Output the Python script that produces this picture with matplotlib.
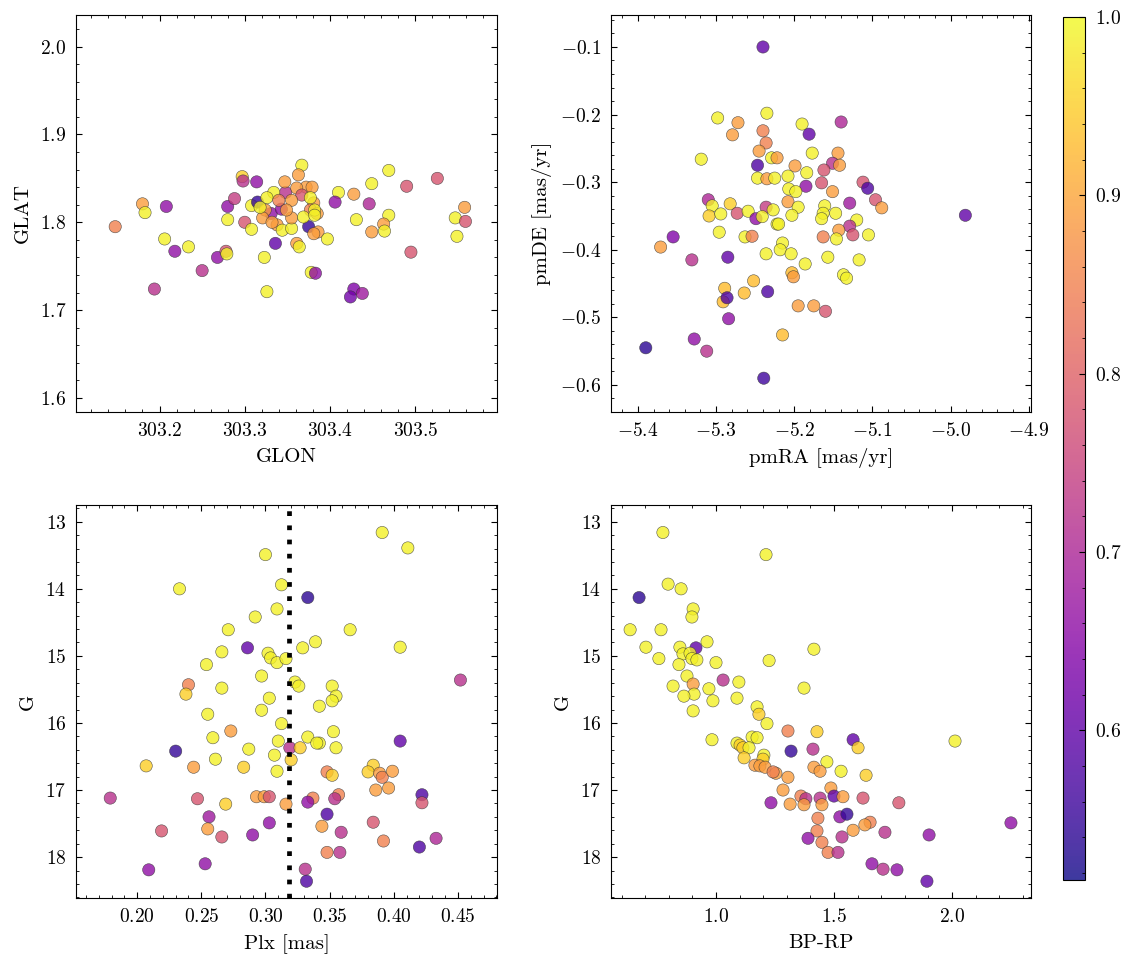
import matplotlib
matplotlib.use("Agg")
import matplotlib.pyplot as plt
import numpy as np

plt.rcParams.update({
    "font.family": "serif",
    "font.serif": ["cmr10", "DejaVu Serif"],
    "mathtext.fontset": "cm",
    "axes.formatter.use_mathtext": True,
    "axes.unicode_minus": True,
    "font.size": 14,
    "axes.labelsize": 15,
    "axes.labelpad": 6,
    "xtick.labelsize": 14, "ytick.labelsize": 14,
    "xtick.major.pad": 7, "ytick.major.pad": 7,
    "axes.linewidth": 0.8,
    "xtick.direction": "in", "ytick.direction": "in",
    "xtick.top": True, "ytick.right": True,
    "xtick.major.size": 4.5, "ytick.major.size": 4.5,
    "xtick.minor.size": 2.2, "ytick.minor.size": 2.2,
    "xtick.major.width": 0.8, "ytick.major.width": 0.8,
    "xtick.minor.width": 0.6, "ytick.minor.width": 0.6,
    "xtick.minor.visible": True, "ytick.minor.visible": True,
})

# ---------------- data ----------------
# Panel 1: GLON / GLAT
glon = [303.148, 303.180, 303.183, 303.208, 303.206, 303.218, 303.234, 303.194, 303.250, 303.268,
        303.278, 303.279, 303.280, 303.280, 303.288, 303.297, 303.298, 303.314, 303.300, 303.308,
        303.308, 303.315, 303.323, 303.326, 303.331, 303.343, 303.336, 303.348, 303.372, 303.367,
        303.363, 303.334, 303.361, 303.364, 303.375, 303.378, 303.383, 303.326, 303.347, 303.361,
        303.367, 303.381, 303.377, 303.355, 303.340, 303.324, 303.321, 303.338, 303.344, 303.355,
        303.355, 303.369, 303.385, 303.386, 303.318, 303.349, 303.332, 303.379, 303.382, 303.382,
        303.381, 303.397, 303.377, 303.469, 303.449, 303.490, 303.526, 303.410, 303.428, 303.406,
        303.446, 303.431, 303.469, 303.463, 303.464, 303.449, 303.547, 303.558, 303.559, 303.549,
        303.495, 303.428, 303.438, 303.424]
glat = [1.795, 1.821, 1.811, 1.818, 1.781, 1.767, 1.772, 1.724, 1.745, 1.760,
        1.767, 1.764, 1.803, 1.818, 1.827, 1.852, 1.847, 1.846, 1.800, 1.792,
        1.819, 1.823, 1.760, 1.721, 1.810, 1.815, 1.776, 1.834, 1.840, 1.865,
        1.854, 1.834, 1.776, 1.772, 1.795, 1.743, 1.742, 1.828, 1.846, 1.839,
        1.831, 1.822, 1.814, 1.825, 1.825, 1.814, 1.805, 1.797, 1.791, 1.793,
        1.805, 1.806, 1.810, 1.789, 1.817, 1.814, 1.800, 1.840, 1.814, 1.808,
        1.787, 1.781, 1.828, 1.859, 1.844, 1.841, 1.850, 1.834, 1.832, 1.823,
        1.821, 1.803, 1.808, 1.798, 1.790, 1.789, 1.805, 1.817, 1.801, 1.784,
        1.766, 1.724, 1.719, 1.715]
prob_pos = [0.85, 0.89, 0.99, 0.66, 0.99, 0.66, 0.99, 0.72, 0.72, 0.66,
            0.78, 0.99, 0.99, 0.66, 0.74, 0.95, 0.72, 0.66, 0.78, 0.99,
            0.99, 0.55, 0.99, 0.99, 0.66, 0.66, 0.60, 0.72, 0.89, 0.99,
            0.89, 0.99, 0.89, 0.99, 0.55, 0.99, 0.66, 0.99, 0.89, 0.89,
            0.78, 0.89, 0.85, 0.89, 0.85, 0.89, 0.89, 0.89, 0.99, 0.99,
            0.89, 0.99, 0.89, 0.89, 0.99, 0.89, 0.89, 0.89, 0.99, 0.99,
            0.89, 0.99, 0.99, 0.99, 0.99, 0.78, 0.78, 0.99, 0.89, 0.66,
            0.70, 0.99, 0.99, 0.89, 0.99, 0.89, 0.99, 0.89, 0.78, 0.99,
            0.78, 0.64, 0.68, 0.62]

# Panel 2: proper motions
pmra = [-5.240, -5.298, -5.272, -5.279, -5.235, -5.240, -5.236, -5.245, -5.229, -5.222,
        -5.247, -5.247, -5.235, -5.225, -5.319, -5.310, -5.305, -5.282, -5.273, -5.309,
        -5.294, -5.259, -5.236, -5.227, -5.249, -5.241, -5.296, -5.263, -5.254, -5.355,
        -5.371, -5.222, -5.190, -5.181, -5.140, -5.177, -5.144, -5.151, -5.142, -5.162,
        -5.199, -5.184, -5.208, -5.165, -5.185, -5.207, -5.198, -5.112, -5.106, -5.151,
        -5.096, -5.088, -5.129, -5.161, -5.208, -5.195, -5.203, -5.163, -5.147, -5.165,
        -5.220, -5.120, -5.129, -5.143, -5.125, -5.105, -5.163, -5.146, -5.215, -5.218,
        -5.204, -5.236, -5.331, -5.285, -5.252, -5.264, -5.234, -5.289, -5.291, -5.286,
        -5.284, -5.328, -5.312, -5.390, -5.239, -5.215, -5.186, -5.157, -5.117, -5.137,
        -5.133, -5.203, -5.201, -5.195, -5.175, -5.160, -4.981]
pmde = [-0.100, -0.205, -0.212, -0.230, -0.198, -0.224, -0.242, -0.254, -0.264, -0.264,
        -0.275, -0.294, -0.295, -0.294, -0.266, -0.326, -0.335, -0.332, -0.346, -0.350,
        -0.347, -0.343, -0.337, -0.341, -0.354, -0.351, -0.374, -0.381, -0.380, -0.381,
        -0.396, -0.362, -0.214, -0.229, -0.211, -0.257, -0.257, -0.272, -0.275, -0.282,
        -0.276, -0.286, -0.291, -0.301, -0.306, -0.310, -0.314, -0.300, -0.309, -0.314,
        -0.326, -0.338, -0.331, -0.335, -0.329, -0.337, -0.349, -0.346, -0.346, -0.354,
        -0.362, -0.356, -0.365, -0.371, -0.378, -0.378, -0.381, -0.384, -0.390, -0.400,
        -0.406, -0.406, -0.415, -0.411, -0.446, -0.464, -0.462, -0.457, -0.477, -0.471,
        -0.502, -0.532, -0.550, -0.545, -0.590, -0.526, -0.421, -0.411, -0.415, -0.437,
        -0.442, -0.434, -0.440, -0.483, -0.483, -0.491, -0.349]
prob_pm = [0.60, 0.99, 0.89, 0.89, 0.99, 0.85, 0.85, 0.89, 0.99, 0.89,
           0.58, 0.99, 0.89, 0.99, 0.99, 0.70, 0.99, 0.95, 0.78, 0.95,
           0.99, 0.99, 0.74, 0.99, 0.66, 0.99, 0.99, 0.99, 0.85, 0.64,
           0.89, 0.99, 0.99, 0.60, 0.70, 0.99, 0.89, 0.72, 0.89, 0.78,
           0.89, 0.99, 0.99, 0.78, 0.66, 0.99, 0.99, 0.78, 0.58, 0.89,
           0.78, 0.89, 0.68, 0.99, 0.89, 0.99, 0.99, 0.99, 0.99, 0.99,
           0.99, 0.99, 0.72, 0.89, 0.78, 0.99, 0.85, 0.99, 0.99, 0.99,
           0.99, 0.99, 0.72, 0.60, 0.93, 0.93, 0.58, 0.93, 0.93, 0.58,
           0.66, 0.66, 0.72, 0.54, 0.56, 0.93, 0.99, 0.99, 0.99, 0.99,
           0.99, 0.93, 0.89, 0.89, 0.89, 0.78, 0.60]

# Panel 3: parallax vs G
plx = [0.300, 0.233, 0.3125, 0.309, 0.292, 0.271, 0.286, 0.266, 0.254, 0.302,
       0.304, 0.309, 0.316, 0.297, 0.240, 0.238, 0.266, 0.303, 0.255, 0.297,
       0.323, 0.391, 0.411, 0.333, 0.366, 0.405, 0.339, 0.329, 0.326, 0.352,
       0.355, 0.352, 0.342, 0.452, 0.273, 0.3125, 0.259, 0.230, 0.287, 0.310,
       0.307, 0.261, 0.207, 0.244, 0.283, 0.309, 0.319, 0.320, 0.179, 0.247,
       0.269, 0.293, 0.299, 0.303, 0.316, 0.256, 0.255, 0.219, 0.266, 0.290,
       0.303, 0.253, 0.209, 0.333, 0.342, 0.340, 0.353, 0.355, 0.327, 0.405,
       0.348, 0.352, 0.384, 0.380, 0.389, 0.391, 0.399, 0.386, 0.396, 0.422,
       0.422, 0.337, 0.333, 0.357, 0.354, 0.348, 0.344, 0.384, 0.359, 0.392,
       0.348, 0.358, 0.433, 0.420, 0.331, 0.332]
g_plx = [13.49, 14.00, 13.94, 14.30, 14.42, 14.61, 14.88, 14.94, 15.13, 14.96,
         15.03, 15.10, 15.04, 15.30, 15.43, 15.57, 15.48, 15.63, 15.87, 15.81,
         15.39, 13.16, 13.39, 14.13, 14.61, 14.87, 14.79, 14.88, 15.45, 15.45,
         15.60, 15.67, 15.75, 15.36, 16.12, 16.01, 16.22, 16.42, 16.39, 16.27,
         16.48, 16.54, 16.64, 16.66, 16.66, 16.72, 16.37, 16.55, 17.12, 17.13,
         17.21, 17.10, 17.10, 17.10, 17.21, 17.40, 17.58, 17.61, 17.70, 17.67,
         17.49, 18.10, 18.19, 16.21, 16.30, 16.30, 16.13, 16.37, 16.37, 16.27,
         16.73, 16.78, 16.63, 16.73, 16.75, 16.81, 16.72, 17.00, 16.97, 17.07,
         17.19, 17.12, 17.18, 17.07, 17.13, 17.36, 17.54, 17.48, 17.63, 17.76,
         17.93, 17.93, 17.72, 17.85, 18.18, 18.36]
prob_plx = [0.99, 0.99, 0.99, 0.99, 0.99, 0.99, 0.60, 0.99, 0.99, 0.99,
            0.99, 0.99, 0.99, 0.99, 0.85, 0.95, 0.99, 0.99, 0.99, 0.99,
            0.99, 0.99, 0.99, 0.54, 0.99, 0.99, 0.99, 0.99, 0.99, 0.99,
            0.99, 0.99, 0.99, 0.72, 0.89, 0.99, 0.99, 0.55, 0.99, 0.99,
            0.99, 0.99, 0.95, 0.89, 0.95, 0.99, 0.72, 0.95, 0.72, 0.78,
            0.95, 0.89, 0.89, 0.78, 0.89, 0.68, 0.89, 0.78, 0.78, 0.66,
            0.66, 0.66, 0.66, 0.99, 0.99, 0.99, 0.99, 0.99, 0.95, 0.60,
            0.85, 0.95, 0.95, 0.95, 0.89, 0.85, 0.89, 0.89, 0.89, 0.58,
            0.78, 0.85, 0.66, 0.85, 0.72, 0.58, 0.89, 0.78, 0.72, 0.85,
            0.85, 0.72, 0.70, 0.58, 0.72, 0.58]
plx_ref = 0.318

# Panel 4: colour-magnitude diagram
bprp = [0.775, 1.212, 0.674, 0.797, 0.852, 0.903, 0.898, 0.636, 0.767, 0.703,
        0.758, 0.847, 0.915, 0.962, 0.860, 0.890, 0.898, 0.919, 0.843, 1.000,
        1.225, 1.415, 0.877, 1.030, 1.097, 0.903, 0.818, 0.907, 0.970, 0.864,
        0.987, 1.089, 1.373, 0.903, 1.174, 1.182, 1.216, 0.983, 1.089, 1.102,
        1.153, 1.174, 1.114, 1.140, 1.203, 1.199, 1.119, 1.165, 1.186, 1.208,
        1.254, 1.242, 1.305, 1.428, 1.318, 1.411, 1.581, 1.602, 1.470, 1.415,
        1.441, 1.530, 1.636, 1.305, 2.013, 1.284, 1.233, 1.314, 1.360, 1.381,
        1.373, 1.441, 1.449, 1.487, 1.500, 1.538, 1.623, 1.775, 1.432, 1.525,
        1.555, 1.653, 1.631, 1.581, 1.428, 1.716, 1.903, 2.250, 1.390, 1.534,
        1.449, 1.475, 1.517, 1.661, 1.708, 1.767, 1.894]
g_cmd = [13.16, 13.49, 14.13, 13.93, 14.00, 14.30, 14.42, 14.61, 14.61, 14.87,
         15.04, 14.87, 14.88, 14.79, 14.97, 14.96, 15.04, 15.06, 15.13, 15.10,
         15.07, 14.90, 15.30, 15.36, 15.39, 15.42, 15.45, 15.57, 15.49, 15.60,
         15.67, 15.63, 15.48, 15.82, 15.76, 15.87, 16.01, 16.25, 16.30, 16.33,
         16.21, 16.22, 16.37, 16.37, 16.48, 16.54, 16.52, 16.63, 16.64, 16.66,
         16.75, 16.73, 16.12, 16.13, 16.42, 16.39, 16.25, 16.37, 16.58, 16.66,
         16.72, 16.72, 16.78, 16.81, 16.27, 17.00, 17.19, 17.21, 17.09, 17.13,
         17.22, 17.12, 17.22, 16.97, 17.09, 17.10, 17.12, 17.19, 17.42, 17.40,
         17.36, 17.48, 17.52, 17.60, 17.61, 17.63, 17.67, 17.49, 17.72, 17.70,
         17.78, 17.93, 17.93, 18.10, 18.18, 18.19, 18.36]
prob_cmd = [0.99, 0.99, 0.54, 0.99, 0.99, 0.99, 0.99, 0.99, 0.99, 0.99,
            0.99, 0.99, 0.60, 0.99, 0.99, 0.99, 0.99, 0.99, 0.99, 0.99,
            0.99, 0.99, 0.99, 0.72, 0.99, 0.89, 0.99, 0.99, 0.99, 0.99,
            0.99, 0.99, 0.99, 0.99, 0.99, 0.95, 0.99, 0.99, 0.99, 0.95,
            0.99, 0.99, 0.95, 0.99, 0.99, 0.95, 0.95, 0.89, 0.89, 0.89,
            0.89, 0.85, 0.85, 0.95, 0.55, 0.72, 0.60, 0.95, 0.99, 0.89,
            0.89, 0.99, 0.95, 0.89, 0.99, 0.89, 0.66, 0.89, 0.85, 0.72,
            0.89, 0.72, 0.89, 0.89, 0.60, 0.89, 0.78, 0.78, 0.85, 0.66,
            0.55, 0.85, 0.89, 0.89, 0.85, 0.72, 0.66, 0.66, 0.66, 0.72,
            0.85, 0.85, 0.72, 0.66, 0.72, 0.66, 0.60]

vmin, vmax = 0.516, 1.0

# ---------------- figure ----------------
W, H = 1133, 965
fig = plt.figure(figsize=(W / 100, H / 100), dpi=100)

def box(l, t, r, b):
    return [l / W, 1 - b / H, (r - l) / W, (b - t) / H]

ax1 = fig.add_axes(box(76, 15, 497, 412))
ax2 = fig.add_axes(box(611, 15, 1031, 412))
ax3 = fig.add_axes(box(76, 505, 497, 898))
ax4 = fig.add_axes(box(611, 505, 1031, 898))
cax = fig.add_axes(box(1063, 17, 1085, 880))

kw = dict(cmap="plasma", vmin=vmin, vmax=vmax, s=78, alpha=0.8,
          edgecolors="#333333", linewidths=0.4, zorder=3)

sc = ax1.scatter(glon, glat, c=prob_pos, **kw)
ax1.set_xlim(303.102, 303.596)
ax1.set_ylim(1.584, 2.036)
ax1.set_xlabel("GLON")
ax1.set_ylabel("GLAT")

ax2.scatter(pmra, pmde, c=prob_pm, **kw)
ax2.set_xlim(-5.4345, -4.897)
ax2.set_ylim(-0.640, -0.0527)
ax2.set_xlabel("pmRA [mas/yr]")
ax2.set_ylabel("pmDE [mas/yr]")

ax3.scatter(plx, g_plx, c=prob_plx, **kw)
ax3.axvline(plx_ref, color="black", lw=3.4, linestyle=(0, (1, 2)),
            dash_capstyle="butt", zorder=4)
ax3.set_xlim(0.1523, 0.4805)
ax3.set_ylim(18.61, 12.75)
ax3.set_xlabel("Plx [mas]")
ax3.set_ylabel("G")

ax4.scatter(bprp, g_cmd, c=prob_cmd, **kw)
ax4.set_xlim(0.555, 2.335)
ax4.set_ylim(18.61, 12.75)
ax4.set_xlabel("BP-RP")
ax4.set_ylabel("G")

for ax in (ax1, ax2, ax3, ax4):
    ax.tick_params(which="both", direction="in", top=True, right=True)

cb = fig.colorbar(sc, cax=cax)
cb.solids.set_alpha(0.8)
cb.set_ticks([0.6, 0.7, 0.8, 0.9, 1.0])
cb.ax.minorticks_on()
cb.ax.tick_params(which="both", direction="in")
cb.outline.set_linewidth(0.8)

fig.savefig("out.png", dpi=100)
